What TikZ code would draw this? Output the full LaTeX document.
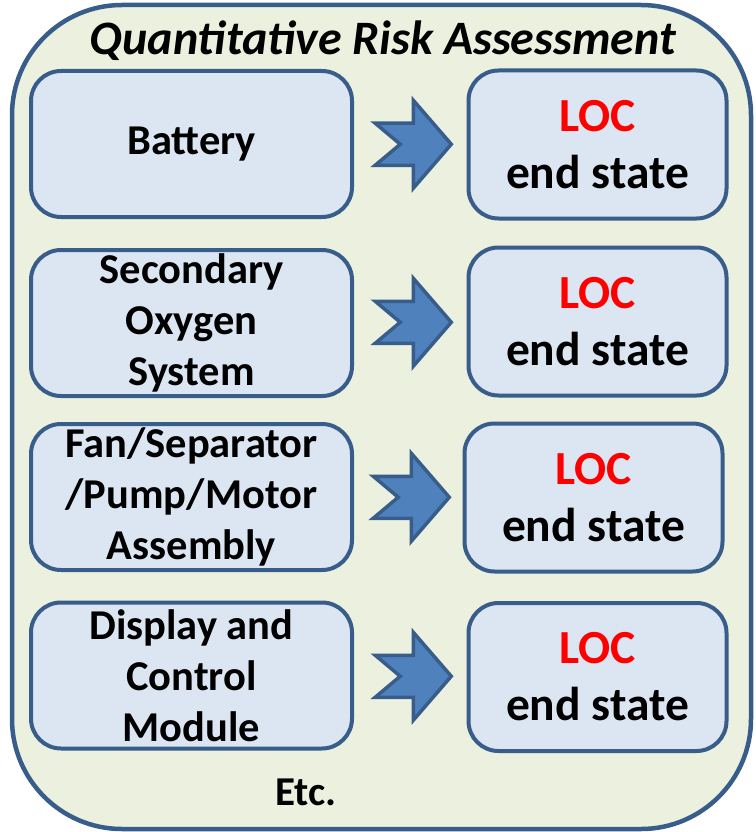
\documentclass[tikz,border=0pt]{standalone}
\usepackage{fontspec}
\setmainfont{Carlito}
\usetikzlibrary{calc}

\definecolor{edgeblue}{HTML}{385D8A}
\definecolor{panelgreen}{HTML}{EBF1DE}
\definecolor{boxblue}{HTML}{DCE6F2}
\definecolor{arrowblue}{HTML}{4F81BD}
\definecolor{locred}{HTML}{FF0000}

\tikzset{
  part/.style={draw=edgeblue, fill=boxblue, line width=4pt, rounded corners=30pt,
    minimum width=321pt, minimum height=146pt, inner sep=0pt, align=center,
    font=\bfseries\fontsize{42.5}{51}\selectfont},
  endstate/.style={part, minimum width=258pt, minimum height=148pt,
    font=\bfseries\fontsize{47.5}{57}\selectfont},
  notched/.pic={
    \draw[edgeblue, fill=arrowblue, line width=3.5pt, line join=miter]
      (-35,-21) -- (3,-21) -- (3,-44) -- (41,0) -- (3,44) -- (3,21)
      -- (-35,21) -- (-10,0) -- cycle;
  }
}

\begin{document}
\begin{tikzpicture}[x=1pt, y=-1pt]

  \useasboundingbox (0,0) rectangle (755,832);

  % frame
  \draw[edgeblue, fill=panelgreen, line width=4.5pt, rounded corners=110pt]
    (12,5) rectangle (751,829);
  \node[anchor=base, font=\bfseries\itshape\fontsize{48}{56}\selectfont] (title) at (383,55)
    {Quantitative Risk Assessment};

  % subsystems
  \node[part] (bat) at (191.5,144) {Battery};
  \node[part] (oxy) at (191.5,323) {Secondary\\Oxygen\\System};
  \node[part] (fan) at (191.5,497) {Fan/Separator\\/Pump/Motor\\Assembly};
  \node[part] (dcm) at (191.5,675.5) {Display and\\Control\\Module};

  % end states
  \node[endstate] (loc1) at (597.5,144.5) {\textcolor{locred}{LOC}\\end state};
  \node[endstate] (loc2) at (597.5,321.5) {\textcolor{locred}{LOC}\\end state};
  \node[endstate] (loc3) at (593.5,497.5) {\textcolor{locred}{LOC}\\end state};
  \node[endstate] (loc4) at (597.5,677) {\textcolor{locred}{LOC}\\end state};

  \node[font=\bfseries\fontsize{41}{48}\selectfont] (etc) at (306,792) {Etc.};

  % arrows
  \pic at ($(bat.east)!0.5!(loc1.west)$) {notched};
  \pic at ($(oxy.east)!0.5!(loc2.west)$) {notched};
  \pic at ($(fan.east)!0.5!(loc3.west)$) {notched};
  \pic at ($(dcm.east)!0.5!(loc4.west)$) {notched};

\end{tikzpicture}
\end{document}
